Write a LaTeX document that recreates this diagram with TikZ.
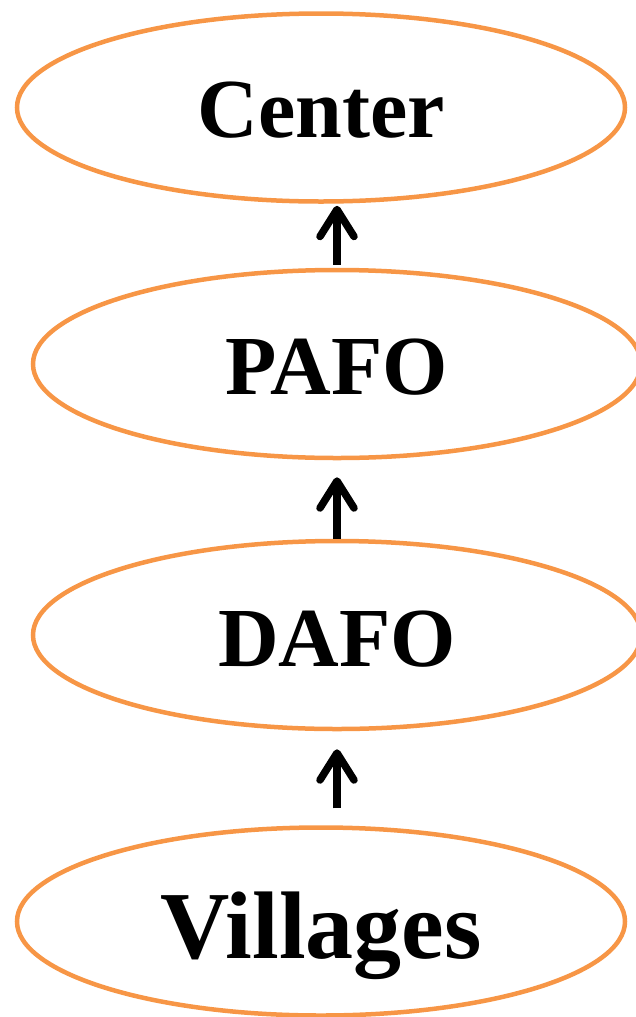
\documentclass[tikz,border=0pt]{standalone}
\usepackage{fontspec}
\setmainfont{Liberation Serif}
\usetikzlibrary{shapes.geometric,arrows.meta}
\definecolor{ringorange}{HTML}{F79646}
\tikzset{
  level/.style={ellipse, draw=ringorange, line width=4.5bp, minimum width=608bp,
    minimum height=188bp, inner sep=0pt, text depth=0pt,
    font=\bfseries\fontsize{84bp}{96bp}\selectfont},
  uparrow/.style={line width=7.5bp, draw=black,
    -{Straight Barb[length=27bp, width=34bp, line cap=round, line join=round]}}
}
\begin{document}
\begin{tikzpicture}[x=1bp, y=-1bp]
\useasboundingbox (0,0) rectangle (636,1017);
\node[level, text height=60bp] (center) at (321,107.5) {Center};
\node[level, text height=60bp] (pafo) at (337,364) {PAFO};
\node[level, text height=62bp] (dafo) at (337,635) {DAFO};
\node[level, text height=74bp, font=\bfseries\fontsize{96bp}{110bp}\selectfont] (villages) at (321,921.5) {Villages};
\draw[uparrow, shorten <=3bp, shorten >=2bp] (pafo.north) -- (pafo.north |- center.south);
\draw[uparrow, shorten >=17bp] (dafo.north) -- (pafo.south);
\draw[uparrow, shorten <=17bp, shorten >=18bp] (dafo.south |- villages.north) -- (dafo.south);
\end{tikzpicture}
\end{document}
